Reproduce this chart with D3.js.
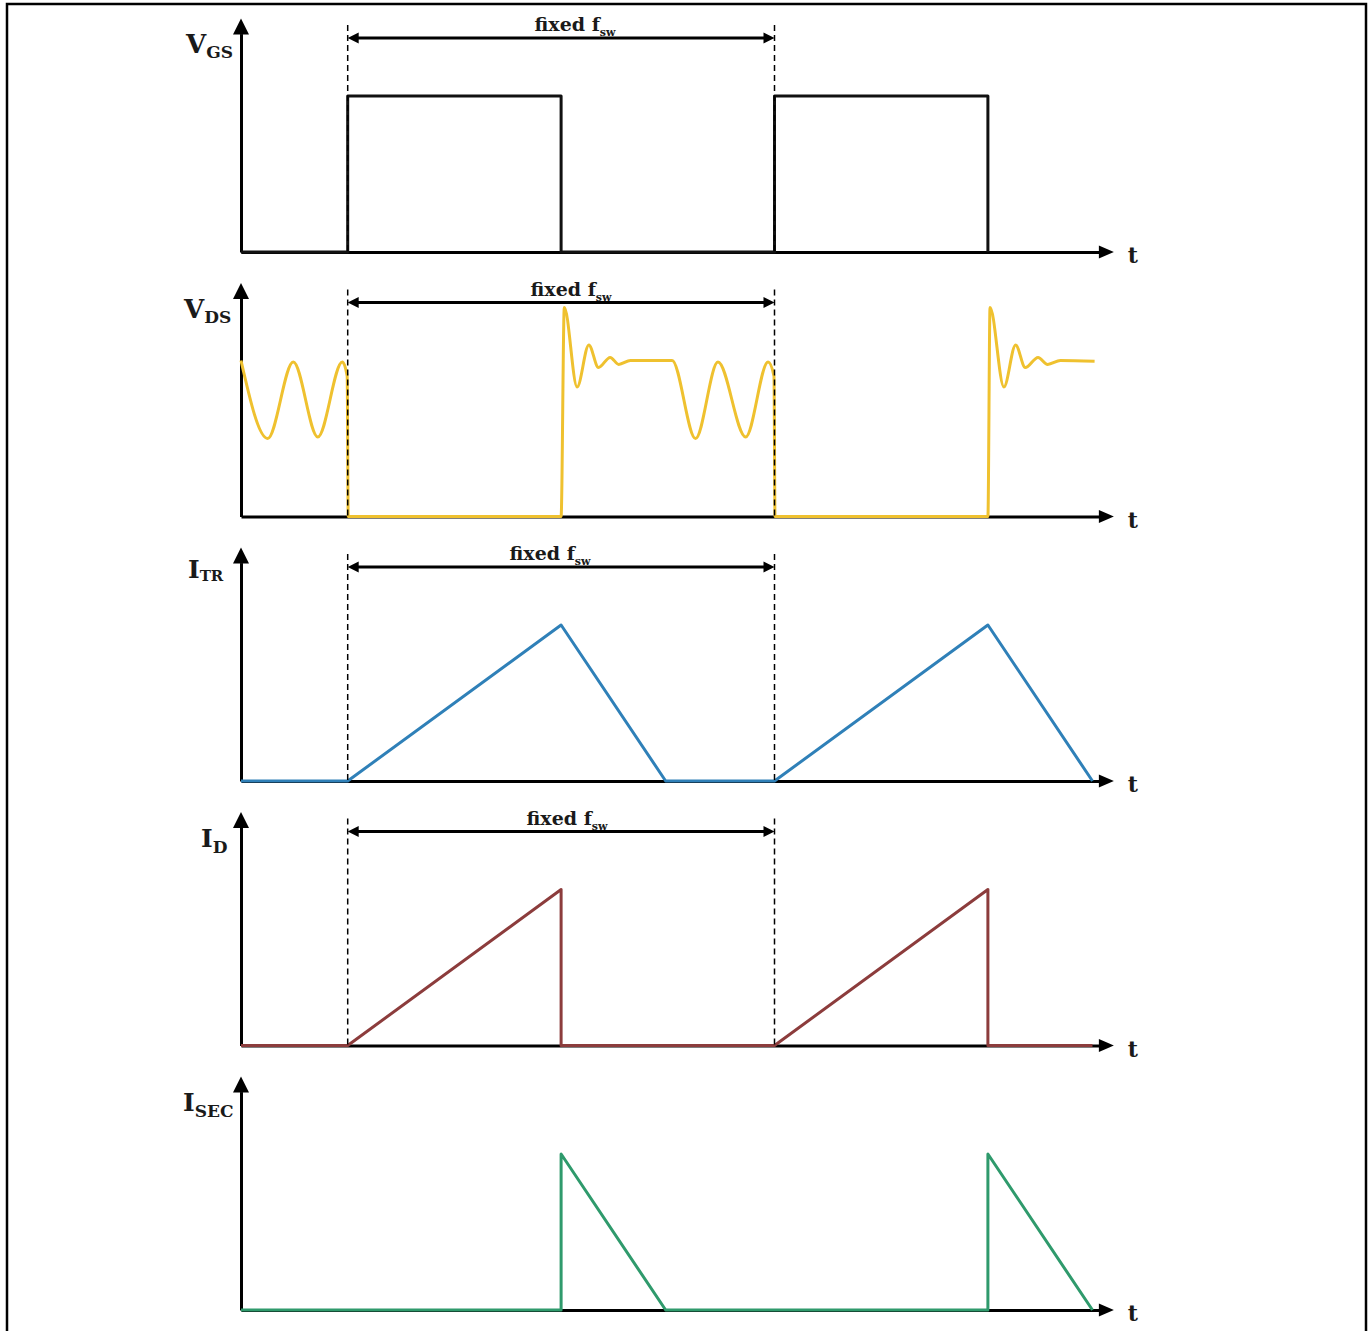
<!DOCTYPE html>
<html>
<head>
<meta charset="utf-8">
<title>Flyback waveforms</title>
<script src="https://d3js.org/d3.v7.min.js"></script>
<style>
  body { margin: 0; background: #fff; }
  svg text { font-family: "DejaVu Serif", "Liberation Serif", serif; font-weight: bold; fill: #1a1a1a; }
</style>
</head>
<body>
<svg id="chart" width="1370" height="1331"></svg>
<script>
"use strict"

// time in switching-period units (on at 1 and 5, off at 3 and 7)
var timeMax = 8.04;
var onTimes = [1, 5];

// signal names
var mainLabels = ["V", "V", "I", "I", "I"];
var subLabels = ["GS", "DS", "TR", "D", "SEC"];
var arrowText = "fixed f";
var arrowSub = "sw";
var axisText = "t";

// waveforms as [time, level]
var vgsWave = [[0,0],[1,0],[1,1],[3,1],[3,0],[5,0],[5,1],[7,1],[7,0]];
var vdsWave = [[0,1.0],[0.25,0.5],[0.49,0.99],[0.72,0.51],[0.95,0.99],[0.995,0.9],[1.005,0],
  [3.0,0],[3.03,1.34],[3.15,0.83],[3.26,1.10],[3.35,0.955],[3.46,1.02],[3.54,0.975],[3.65,1.0],
  [4.04,1.0],[4.26,0.5],[4.47,0.99],[4.73,0.51],[4.94,0.99],[4.995,0.9],[5.005,0],
  [7.0,0],[7.02,1.34],[7.15,0.83],[7.26,1.10],[7.35,0.955],[7.47,1.02],[7.56,0.975],[7.68,1.0],[8.0,0.995]];
var itrWave = [[0,0],[1,0],[3,1],[3.98,0],[5,0],[7,1],[7.98,0]];
var idWave = [[0,0],[1,0],[3,1],[3,0],[5,0],[7,1],[7,0],[7.98,0]];
var isecWave = [[0,0],[3,0],[3,1],[3.98,0],[7,0],[7,1],[7.98,0]];

// layout
var svg = d3.select("#chart");
var x0 = 241, unitX = 106.7, unitY = 156;
var x = d3.scaleLinear().domain([0, timeMax]).range([x0, x0 + timeMax * unitX]);

var panels = [
  {wave: vgsWave, color: "#111", smooth: false, fsw: true, textX: 575, lab: {x: 186, dy: 5, big: 26, small: 17}},
  {wave: vdsWave, color: "#efc12f", smooth: true, fsw: true, textX: 571, lab: {x: 184, dy: 5, big: 26, small: 17}},
  {wave: itrWave, color: "#2f80b8", smooth: false, fsw: true, textX: 550, lab: {x: 188, dy: 3, big: 25, small: 15}},
  {wave: idWave, color: "#8c3c3c", smooth: false, fsw: true, textX: 567, lab: {x: 201, dy: 6, big: 25, small: 17}},
  {wave: isecWave, color: "#2f9a6c", smooth: false, fsw: false, textX: 0, lab: {x: 183, dy: 6, big: 25, small: 17}}
];

// frame
svg.append("rect")
  .attr("x", 7).attr("y", 4)
  .attr("width", 1359).attr("height", 1360)
  .attr("fill", "none").attr("stroke", "#000").attr("stroke-width", 2.5);

panels.forEach(function(p, i) {
  var base = 252 + i * 264.5;
  var y = d3.scaleLinear().domain([0, 1.4]).range([base, base - 1.4 * unitY]);
  var g = svg.append("g");

  // x axis
  g.append("g")
    .attr("transform", "translate(0," + base + ")")
    .call(d3.axisBottom(x).tickValues([]).tickSizeOuter(0))
    .call(function(a) { a.select(".domain").attr("stroke", "#000").attr("stroke-width", 3); });
  var tipX = x(timeMax) + 15;
  g.append("path")
    .attr("d", "M" + tipX + "," + base + "L" + (tipX - 15) + "," + (base - 6.5) + "L" + (tipX - 15) + "," + (base + 6.5) + "Z")
    .attr("fill", "#000");
  g.append("text")
    .attr("x", tipX + 19).attr("y", base + 11)
    .attr("text-anchor", "middle")
    .style("font-size", "22px")
    .text(axisText);

  // y axis
  g.append("g")
    .attr("transform", "translate(" + x0 + ",0)")
    .call(d3.axisLeft(y).tickValues([]).tickSizeOuter(0))
    .call(function(a) { a.select(".domain").attr("stroke", "#000").attr("stroke-width", 3); });
  var tipY = y(1.4) - 15;
  g.append("path")
    .attr("d", "M" + x0 + "," + tipY + "L" + (x0 - 8) + "," + (tipY + 16) + "L" + (x0 + 8) + "," + (tipY + 16) + "Z")
    .attr("fill", "#000");

  // signal label
  var lab = g.append("text")
    .attr("x", p.lab.x).attr("y", base - 199 - (i === 2 ? 4 : 0))
    .style("font-size", p.lab.big + "px");
  lab.append("tspan").text(mainLabels[i]);
  lab.append("tspan").attr("dy", p.lab.dy).style("font-size", p.lab.small + "px").text(subLabels[i]);

  // waveform
  var line = d3.line()
    .x(function(d) { return x(d[0]); })
    .y(function(d) { return y(d[1]); })
    .curve(p.smooth ? d3.curveMonotoneX : d3.curveLinear);
  g.append("path")
    .datum(p.wave)
    .attr("d", line)
    .attr("fill", "none")
    .attr("stroke", p.color)
    .attr("stroke-width", 3)
    .attr("stroke-linejoin", "round");

  if (p.fsw) {
    // dashed period markers
    onTimes.forEach(function(t) {
      g.append("line")
        .attr("x1", x(t)).attr("x2", x(t))
        .attr("y1", base - 227).attr("y2", base)
        .attr("stroke", "#000").attr("stroke-width", 1.5)
        .attr("stroke-dasharray", "6,4");
    });
    var ay = base - 214;
    var xa = x(onTimes[0]), xb = x(onTimes[1]);
    g.append("line")
      .attr("x1", xa + 8).attr("x2", xb - 8)
      .attr("y1", ay).attr("y2", ay)
      .attr("stroke", "#000").attr("stroke-width", 3);
    g.append("path")
      .attr("d", "M" + xa + "," + ay + "L" + (xa + 11) + "," + (ay - 5.5) + "L" + (xa + 11) + "," + (ay + 5.5) + "Z")
      .attr("fill", "#000");
    g.append("path")
      .attr("d", "M" + xb + "," + ay + "L" + (xb - 11) + "," + (ay - 5.5) + "L" + (xb - 11) + "," + (ay + 5.5) + "Z")
      .attr("fill", "#000");
    var ft = g.append("text")
      .attr("x", p.textX).attr("y", ay - 7)
      .attr("text-anchor", "middle")
      .style("font-size", "19px");
    ft.append("tspan").text(arrowText);
    ft.append("tspan").attr("dy", 5).style("font-size", "11px").text(arrowSub);
  }
});
</script>
</body>
</html>
